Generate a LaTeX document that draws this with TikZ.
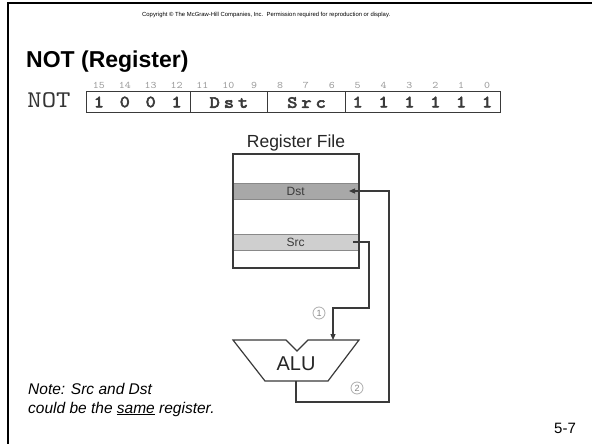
\documentclass[tikz,border=0pt]{standalone}
\usepackage{fontspec}
\setmainfont{Liberation Sans}
\newfontfamily\cour{lmmono10-regular.otf}[FakeStretch=1.14]
\newfontfamily\courb{lmmono10-regular.otf}[FakeStretch=1.14, FakeBold=3.5]
\usetikzlibrary{arrows.meta}

\definecolor{ink}{HTML}{3A3A3A}
\definecolor{dstgray}{HTML}{A8A8A8}
\definecolor{srcgray}{HTML}{CFCFCF}
\definecolor{numgray}{HTML}{9A9A9A}

\tikzset{
  fieldbox/.style={draw=ink, line width=1.2pt, inner sep=0pt, anchor=north west, minimum height=21pt},
  bitnum/.style={font=\cour\fontsize{10}{10}\selectfont, text=numgray, inner sep=0pt, anchor=base},
  bitval/.style={font=\courb\fontsize{17}{17}\selectfont, text=ink, inner sep=0pt},
  band/.style={inner sep=0pt, minimum width=125pt, minimum height=16pt, font=\fontsize{12}{12}\selectfont, text=ink},
  wire/.style={draw=ink, line width=1.1pt},
  tip/.style={-{Triangle[length=6pt,width=5pt]}},
  step circle/.style={circle, draw=numgray!80, line width=0.8pt, minimum size=12pt, inner sep=0pt,
                      font=\fontsize{9}{9}\selectfont, text=numgray!120},
  notetext/.style={anchor=base west, font=\itshape\fontsize{15.5}{19}\selectfont, inner sep=0pt},
}

\begin{document}
\begin{tikzpicture}[x=1pt, y=-1pt]
\useasboundingbox (0,0) rectangle (592,444);
\fill[white] (0,0) rectangle (592,444);

% slide frame: top and left rules
\draw[line width=2pt, black] (7.5,444) -- (7.5,3.5) -- (592,3.5);

% header
\node[anchor=west, inner sep=0pt] (copyright) at (142,15)
  {\resizebox{248pt}{!}{\fontsize{5}{6}\selectfont Copyright © The McGraw-Hill Companies, Inc.\ \ Permission required for reproduction or display.}};
\node[anchor=base west, font=\bfseries\fontsize{23}{26}\selectfont, inner sep=0pt] (title) at (26,68) {NOT (Register)};

% instruction format
\node[font=\cour\fontsize{24}{24}\selectfont, inner sep=0pt, text=ink!90!black] (mnemonic) at (49,100.5) {NOT};
\node[fieldbox, minimum width=103.5pt] (opcode) at (86,91) {};
\node[fieldbox, minimum width=77.625pt] (dstf) at (189.5,91) {};
\node[fieldbox, minimum width=77.625pt] (srcf) at (267.125,91) {};
\node[fieldbox, minimum width=155.25pt] (lowf) at (344.75,91) {};
\foreach \i in {0,...,15}
  \node[bitnum] (b\i) at ({86+25.875*(15-\i)+12.94},88.5) {\i};
\foreach \v [count=\k from 0] in {1,0,0,1}
  \node[bitval] (op\k) at ({86+25.875*\k+12.94},102) {\v};
\foreach \k in {10,...,15}
  \node[bitval] (lo\k) at ({86+25.875*\k+12.94},102) {1};
\node[bitval] (dsttext) at ([yshift=-0.5pt]dstf.center) {D\hspace{4pt}s\hspace{4pt}t};
\node[bitval] (srctext) at ([yshift=-0.5pt]srcf.center) {S\hspace{4pt}r\hspace{4pt}c};

% register file
\node[font=\fontsize{17.5}{18}\selectfont, text=black!85] (rflabel) at (296,143) {Register File};
\node[draw=ink, line width=1.2pt, anchor=north west, minimum width=125pt, minimum height=113pt, inner sep=0pt] (rf) at (233,154) {};
\node[band, fill=dstgray, anchor=north west] (dst) at (233,183) {Dst};
\node[band, fill=srcgray, anchor=north west] (src) at (233,234) {Src};
\draw[ink!60, line width=0.6pt] (dst.north west) -- (dst.north east) (dst.south west) -- (dst.south east)
                                 (src.north west) -- (src.north east) (src.south west) -- (src.south east);
\draw[draw=ink, line width=1.2pt] (rf.north west) rectangle (rf.south east);

% ALU
\node[font=\fontsize{20}{20}\selectfont, text=black!85, inner sep=0pt] (alu) at (296,364) {ALU};
\draw[draw=ink, line width=1.2pt, line join=miter]
  (233,340) -- (286,340) -- (297,351) -- (308,340) -- (359,340) -- (328,381) -- (265,381) -- cycle;
\coordinate (aluin) at (333,340);
\coordinate (aluout) at (296,381);

% data paths
\coordinate (srcout) at (353,242);
\coordinate (dstin) at (349,191);
\draw[wire, tip] (srcout) -- (369,242) -- (369,308) -- (333,308) -- (aluin);
\draw[wire, tip] (aluout) -- (296,402) -- (389,402) -- (389,191) -- (dstin);
\node[step circle] (s1) at (319,313) {1};
\node[step circle] (s2) at (357,388) {2};

% note and page number
\node[notetext] (note1) at (28,394) {Note: Src and Dst};
\node[notetext] (note2) at (28,413) {could be the \underline{same} register.};
\node[font=\fontsize{15}{15}\selectfont, inner sep=0pt] (page) at (565,428) {5-7};
\end{tikzpicture}
\end{document}
